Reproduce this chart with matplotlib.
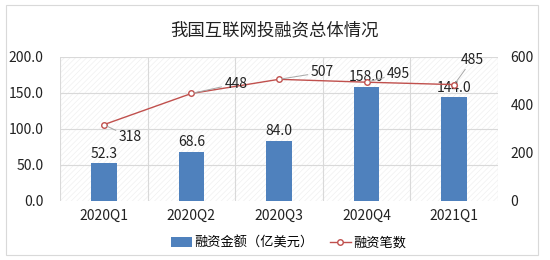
import matplotlib
matplotlib.use("Agg")
import matplotlib.pyplot as plt
from matplotlib.patches import Rectangle
import numpy as np

plt.rcParams['font.family'] = ['Noto Sans CJK SC', 'DejaVu Sans']
plt.rcParams['hatch.linewidth'] = 0.5

categories = ["2020Q1", "2020Q2", "2020Q3", "2020Q4", "2021Q1"]
amount = [52.3, 68.6, 84.0, 158.0, 144.0]
deals = [318, 448, 507, 495, 485]
title = "我国互联网投融资总体情况"
bar_label = "融资金额（亿美元）"
line_label = "融资笔数"
# label offsets (points) for the deal-count annotations
deal_offsets = [(19, -9), (32, 7), (31, 5), (23, 6), (13, 18)]

fig = plt.figure(figsize=(5.5, 2.6), dpi=100)
fig.patches.append(Rectangle((0.01, 0.02), 0.968, 0.96, transform=fig.transFigure,
                             fill=False, edgecolor='#d9d9d9', lw=0.8))
ax = fig.add_axes([60/550, 59/260, 438/550, 144/260])
ax2 = ax.twinx()

x = np.arange(len(categories))
ax.set_xlim(-0.5, len(categories) - 0.5)
ax.set_ylim(0, 200)
ax2.set_ylim(0, 600)

# hatched background
ax.add_patch(Rectangle((0, 0), 1, 1, transform=ax.transAxes, facecolor='white',
                       hatch='//////', edgecolor='#f0f0f0', lw=0, zorder=0))

ax.set_yticks([0, 50, 100, 150, 200])
ax.set_yticklabels([f"{v:.1f}" for v in [0, 50, 100, 150, 200]])
ax2.set_yticks([0, 200, 400, 600])
ax.set_xticks(x)
ax.set_xticklabels(categories)
for xb in np.arange(-0.5, len(categories), 1.0):
    ax.axvline(xb, color='#d9d9d9', lw=0.8, zorder=1)
for yv in [50, 100, 150, 200]:
    ax.axhline(yv, color='#d9d9d9', lw=0.8, zorder=1)

bars = ax.bar(x, amount, width=0.29, color='#4F81BD', zorder=2, label=bar_label)
for xi, v in zip(x, amount):
    ax.annotate(f"{v:.1f}", (xi, v), xytext=(0, 2), textcoords='offset points',
                ha='center', va='bottom', fontsize=10, color='#222222', zorder=5)

line, = ax2.plot(x, deals, color='#C0504D', lw=1.0, marker='o', markersize=4,
                 markerfacecolor='white', markeredgecolor='#C0504D', zorder=3,
                 label=line_label)
for xi, v, off in zip(x, deals, deal_offsets):
    ax2.annotate(str(v), (xi, v), xytext=off, textcoords='offset points',
                 ha='center', va='center', fontsize=10, color='#222222',
                 arrowprops=dict(arrowstyle='-', color='#a6a6a6', lw=0.7,
                                 shrinkA=0, shrinkB=2))

for a in (ax, ax2):
    for s in a.spines.values():
        s.set_visible(False)
    a.tick_params(length=0, labelsize=10, colors='#222222')
ax.tick_params(axis='x', pad=6)
ax.tick_params(axis='y', pad=12)
ax2.tick_params(axis='y', pad=9)

fig.text(0.5, 0.885, title, ha='center', va='center', fontsize=12.5, color='#222222')
fig.legend(handles=[bars, line], labels=[bar_label, line_label], loc='center',
           bbox_to_anchor=(0.525, 0.065), ncol=2, frameon=False, fontsize=9.5,
           handlelength=1.6, handletextpad=0.2, columnspacing=1.2)

fig.savefig("out.png", dpi=100)
